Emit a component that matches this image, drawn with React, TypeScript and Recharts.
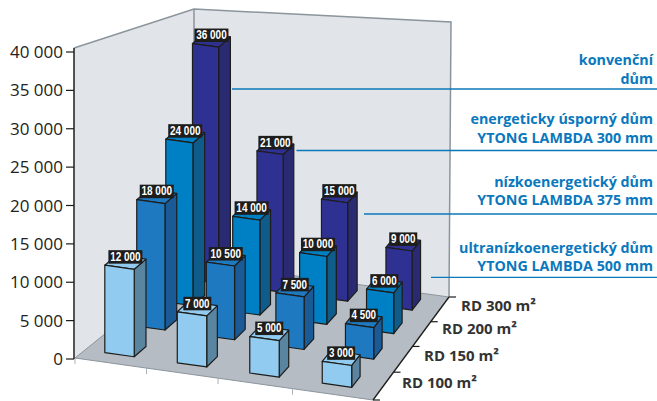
import { BarChart, Bar, XAxis, YAxis, Customized } from 'recharts';

// x categories (the four wall types) with their two-line captions
const houseTypes = ['konvenční', 'energeticky úsporný', 'nízkoenergetický', 'ultranízkoenergetický'];
const rd100 = [12000, 7000, 5000, 3000];
const rd150 = [18000, 10500, 7500, 4500];
const rd200 = [24000, 14000, 10000, 6000];
const rd300 = [36000, 21000, 15000, 9000];
const yTicks = [0, 5000, 10000, 15000, 20000, 25000, 30000, 35000, 40000];
const depthLabels = ['RD 100 m²', 'RD 150 m²', 'RD 200 m²', 'RD 300 m²'];
const captionLines = [
  ['konvenční', 'dům'],
  ['energeticky úsporný dům', 'YTONG LAMBDA 300 mm'],
  ['nízkoenergetický dům', 'YTONG LAMBDA 375 mm'],
  ['ultranízkoenergetický dům', 'YTONG LAMBDA 500 mm'],
];

const chartData = houseTypes.map((name, i) => ({
  name,
  rd100: rd100[i],
  rd150: rd150[i],
  rd200: rd200[i],
  rd300: rd300[i],
}));

const W = 657;
const H = 401;
const PLOT_LEFT = 74;
const PLOT_WIDTH = 299;

// floor corners, everything 3D goes through project()
const FL = [75, 358];
const FR = [373, 400];
const BL = [194, 262];
const BR = [449, 297];
const DEPTH_SIZE = 0.105;
const COL_SIZE = 0.1;

function project(u: number, d: number) {
  const x = (1 - d) * ((1 - u) * FL[0] + u * FR[0]) + d * ((1 - u) * BL[0] + u * BR[0]);
  const y = (1 - d) * ((1 - u) * FL[1] + u * FR[1]) + d * ((1 - u) * BL[1] + u * BR[1]);
  return [x, y];
}

const pts = (list: number[][]) => list.map((p) => `${p[0]},${p[1]}`).join(' ');
const fmt = (v: number) => String(v).replace(/\B(?=(\d{3})+$)/g, ' ');

function Box(props: any) {
  const { x, width, height, value, depth, face, side } = props;
  const frac = (x + width / 2 - PLOT_LEFT) / PLOT_WIDTH;
  const u = frac * 0.985 - 0.055;
  // bars further back shrink a bit
  const h = height * (0.96 - 0.125 * depth);
  const fbl = project(u, depth);
  const fbr = project(u + COL_SIZE, depth);
  const bbr = project(u + COL_SIZE, depth + DEPTH_SIZE);
  const bbl = project(u, depth + DEPTH_SIZE);
  const up = (p: number[]) => [p[0], p[1] - h];
  const label = fmt(value);
  const boxW = label.length > 5 ? 34 : 28;
  const cx = (fbl[0] + bbr[0]) / 2;
  const top = fbl[1] - h - 1.5;
  return (
    <g stroke="#1d1d1b" strokeWidth={1.2} strokeLinejoin="round">
      <polygon points={pts([fbr, bbr, up(bbr), up(fbr)])} fill={side} />
      <polygon points={pts([up(fbl), up(fbr), up(bbr), up(bbl)])} fill={face} />
      <polygon points={pts([fbl, fbr, up(fbr), up(fbl)])} fill={face} />
      <rect x={cx - boxW / 2} y={top - 13.5} width={boxW} height={13.5} fill="#1d1d1b" stroke="none" />
      <text
        x={cx}
        y={top - 2.8}
        textAnchor="middle"
        fontFamily="Liberation Sans"
        fontWeight="bold"
        fontSize={12}
        textLength={boxW - 3.5}
        lengthAdjust="spacingAndGlyphs"
        fill="#ffffff"
        stroke="none"
      >
        {label}
      </text>
    </g>
  );
}

function Walls() {
  return (
    <g>
      <polygon points={pts([[74, 48], [194, 9], BL, FL])} fill="#e1e4e9" />
      <polygon points={pts([[194, 9], [451, 22], BR, BL])} fill="#e1e4e9" />
      <polygon points={pts([FL, FR, BR, BL])} fill="#b5bcc3" />
      <polyline points={pts([[74, 48], [194, 9], [451, 22], BR])} fill="none" stroke="#8b959c" strokeWidth={1.5} />
      <line x1={194} y1={9} x2={194} y2={262} stroke="#8b959c" strokeWidth={1.5} />
      <polyline points={pts([FL, BL, BR])} fill="none" stroke="#8b959c" strokeWidth={1} />
      <line x1={FL[0]} y1={FL[1]} x2={FR[0]} y2={FR[1]} stroke="#8b959c" strokeWidth={1} />
      {[0, 0.24, 0.48, 0.73].map((u) => {
        const p = project(u, 0);
        return <line key={u} x1={p[0]} y1={p[1]} x2={p[0]} y2={p[1] + 6} stroke="#aab1b7" strokeWidth={1} />;
      })}
      <line x1={FR[0]} y1={FR[1]} x2={BR[0]} y2={BR[1]} stroke="#1d1d1b" strokeWidth={1.3} />
      {[0, 0.27, 0.52, 0.76, 1].map((d) => {
        const p = project(1, d);
        return <line key={d} x1={p[0]} y1={p[1]} x2={p[0] + 7} y2={p[1]} stroke="#1d1d1b" strokeWidth={1.2} />;
      })}
      <line x1={74} y1={48} x2={74} y2={52} stroke="#1d1d1b" strokeWidth={1.5} />
    </g>
  );
}

const labelX = [402, 424, 442, 461];
const labelY = [383, 356, 329, 306];
const leaderY = [89, 150.5, 214, 277.3];
const leaderX = [232, 296.5, 364, 431];
const captionY = [[60, 79], [119, 138], [182, 200], [247.5, 266]];

function Annotations() {
  return (
    <g>
      {leaderY.map((y, i) => (
        <line key={i} x1={leaderX[i]} y1={y} x2={W} y2={y} stroke="#0a78b9" strokeWidth={1.3} />
      ))}
      {captionLines.map((lines, i) =>
        lines.map((t, j) => (
          <text
            key={t + i}
            x={653}
            y={captionY[i][j] + 5}
            textAnchor="end"
            fontFamily="Open Sans"
            fontWeight="bold"
            fontSize={14.3}
            fill="#0a78bd"
          >
            {t}
          </text>
        )),
      )}
      {depthLabels.map((t, i) => (
        <text
          key={t}
          x={labelX[i]}
          y={labelY[i] + 5}
          fontFamily="Open Sans"
          fontWeight="bold"
          fontSize={15}
          fill="#333333"
        >
          {t}
        </text>
      ))}
    </g>
  );
}

export default function App() {
  return (
    <div style={{ position: 'absolute', left: 0, top: 0, width: W, height: H, background: '#fff' }}>
      <BarChart
        width={W}
        height={H}
        data={chartData}
        margin={{ top: 52, right: W - PLOT_LEFT - PLOT_WIDTH, bottom: 42, left: 0 }}
        barSize={20}
        barGap={-20}
      >
        <Customized component={<Walls />} />
        <XAxis dataKey="name" hide />
        <YAxis
          width={PLOT_LEFT}
          domain={[0, 40000]}
          ticks={yTicks}
          interval={0}
          tickFormatter={fmt}
          tick={{ fill: '#222222', fontSize: 17, fontFamily: 'Open Sans' }}
          tickSize={8}
          tickMargin={3}
          axisLine={{ stroke: '#1d1d1b', strokeWidth: 1.5 }}
          tickLine={{ stroke: '#1d1d1b', strokeWidth: 1.2 }}
        />
        <Bar dataKey="rd300" isAnimationActive={false} shape={(p: any) => <Box {...p} depth={0.84} face="#2e3192" side="#2a2a72" />} />
        <Bar dataKey="rd200" isAnimationActive={false} shape={(p: any) => <Box {...p} depth={0.61} face="#0080c4" side="#0f5c8a" />} />
        <Bar dataKey="rd150" isAnimationActive={false} shape={(p: any) => <Box {...p} depth={0.36} face="#1e79c0" side="#1a5a96" />} />
        <Bar dataKey="rd100" isAnimationActive={false} shape={(p: any) => <Box {...p} depth={0.085} face="#91cbf0" side="#5a85a0" />} />
        <Customized component={<Annotations />} />
      </BarChart>
    </div>
  );
}
